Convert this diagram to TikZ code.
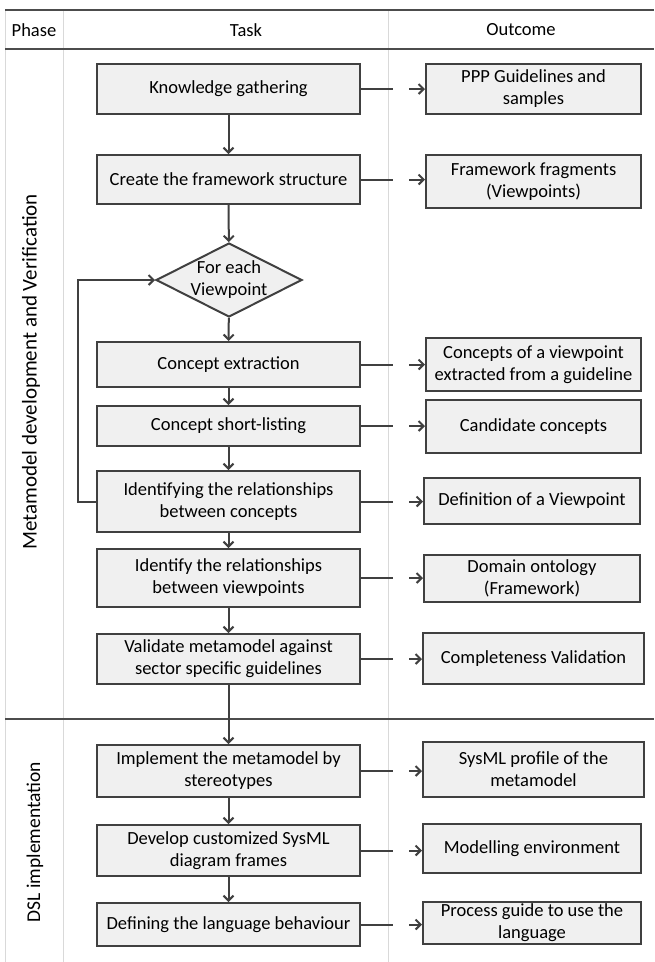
\documentclass[tikz,border=0pt]{standalone}
\usepackage{fontspec}
\setmainfont{Carlito}
\usetikzlibrary{shapes.geometric,arrows.meta}

\begin{document}
\begin{tikzpicture}
    [x=1pt,y=-1pt,
    font=\fontsize{18.5}{22}\selectfont,
    rule/.style={line width=2.5pt,black!70},
    lane/.style={line width=0.8pt,black!15},
    box/.style={draw=black!75,line width=2pt,fill=black!6,align=center,inner sep=2pt},
    task/.style={box,minimum width=263pt},
    outcome/.style={box,minimum width=215pt},
    decision/.style={diamond,draw=black!75,line width=2pt,fill=black!6,
        minimum width=146pt,minimum height=74pt,inner sep=0pt},
    flow/.style={-{Straight Barb[length=5pt,width=10pt]},line width=2pt,black!75},
    result/.style={flow,dash pattern=on 32pt off 16pt on 200pt}]

\useasboundingbox (0,0) rectangle (654,962);

%table frame
\draw[lane] (5,10) -- (5,962);
\draw[lane] (63,10) -- (63,962);
\draw[lane] (388,10) -- (388,962);
\draw[rule] (5,10) -- (654,10);
\draw[rule] (5,49) -- (654,49);
\draw[rule] (5,719) -- (654,719);

%headers and phases
\node (hphase) at (34,30) {Phase};
\node (htask) at (246,30) {Task};
\node (houtcome) at (521,30) {Outcome};
\node[rotate=90,font=\fontsize{21}{24}\selectfont] (pmeta) at (31,372) {Metamodel development and Verification};
\node[rotate=90,font=\fontsize{19.5}{24}\selectfont] (pdsl) at (35,842) {DSL implementation};

%tasks
\node[task,minimum height=50pt] (t1) at (228.5,89) {Knowledge gathering};
\node[task,minimum height=49pt] (t2) at (228.5,179.5) {Create the framework structure};
\node[decision,label={[align=center]center:For each\\Viewpoint}] (each) at (229,280) {};
\node[task,minimum height=45pt] (t3) at (228.5,364.5) {Concept extraction};
\node[task,minimum height=40pt] (t4) at (228.5,426) {Concept short-listing};
\node[task,minimum height=61pt] (t5) at (228.5,501.5) {Identifying the relationships\\between concepts};
\node[task,minimum height=58pt] (t6) at (228.5,578) {Identify the relationships\\between viewpoints};
\node[task,minimum height=50pt] (t7) at (228.5,659) {Validate metamodel against\\sector specific guidelines};
\node[task,minimum height=52pt] (t8) at (228.5,771) {Implement the metamodel by\\stereotypes};
\node[task,minimum height=51pt] (t9) at (228.5,850.5) {Develop customized SysML\\diagram frames};
\node[task,minimum height=43pt] (t10) at (228.5,924.5) {Defining the language behaviour};

%outcomes
\node[outcome,minimum height=50pt] (o1) at (533.5,89) {PPP Guidelines and\\samples};
\node[outcome,minimum height=53pt] (o2) at (533.5,181.5) {Framework fragments\\(Viewpoints)};
\node[outcome,minimum height=53pt] (o3) at (533.5,364.5) {Concepts of a viewpoint\\extracted from a guideline};
\node[outcome,minimum height=53pt] (o4) at (533.5,426.5) {Candidate concepts};
\node[outcome,minimum width=216pt,minimum height=46pt] (o5) at (532,501) {Definition of a Viewpoint};
\node[outcome,minimum width=216pt,minimum height=47pt] (o6) at (532,578.5) {Domain ontology\\(Framework)};
\node[outcome,minimum width=221pt,minimum height=51pt] (o7) at (533.5,658.5) {Completeness Validation};
\node[outcome,minimum width=221pt,minimum height=55pt] (o8) at (533.5,769.5) {SysML profile of the\\metamodel};
\node[outcome,minimum width=218pt,minimum height=49pt] (o9) at (532,848.5) {Modelling environment};
\node[outcome,minimum width=218pt,minimum height=42pt] (o10) at (532,923) {Process guide to use the\\language};

%task flow
\draw[flow] (t1) -- (t2);
\draw[flow] (t2) -- (each);
\draw[flow] (each) -- (t3);
\draw[flow] (t3) -- (t4);
\draw[flow] (t4) -- (t5);
\draw[flow] (t5) -- (t6);
\draw[flow] (t6) -- (t7);
\draw[flow] (t7) -- (t8);
\draw[flow] (t8) -- (t9);
\draw[flow] (t9) -- (t10);

%loop back to the viewpoint decision
\coordinate (loop) at (78,280);
\draw[flow] (t5.west) -| (loop) -- (each.west);

%outcomes of each task
\foreach \i in {1,...,10}
    \draw[result] (t\i.east) -- (t\i.east -| o\i.west);

\end{tikzpicture}
\end{document}
